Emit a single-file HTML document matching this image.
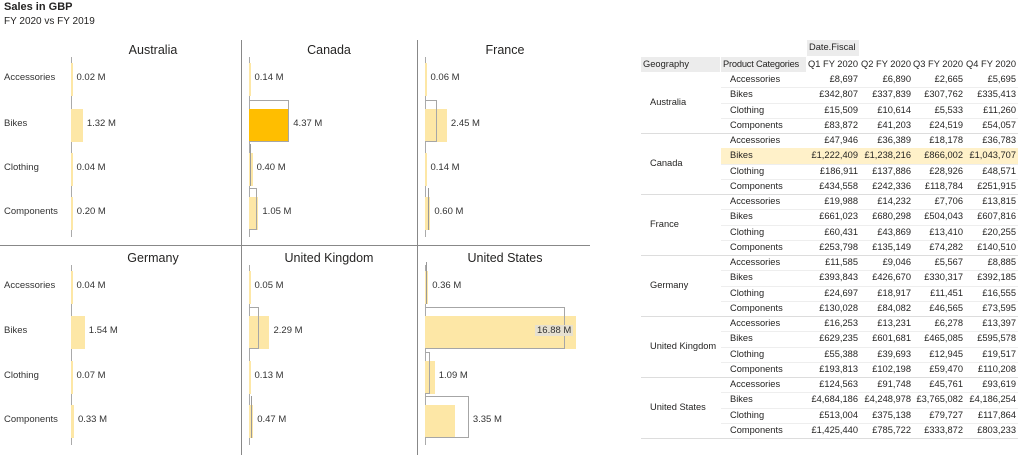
<!DOCTYPE html>
<html><head><meta charset="utf-8"><style>
body{margin:0;width:1024px;height:455px;background:#fff;position:relative;overflow:hidden;font-family:"Liberation Sans",sans-serif;color:#252423}
div{position:absolute;box-sizing:border-box}
.t{white-space:nowrap}
</style></head><body>
<div class="t" style="left:4px;top:1px;font-size:11px;font-weight:bold">Sales in GBP</div>
<div class="t" style="left:4px;top:16px;font-size:10px">FY 2020 vs FY 2019</div>
<div style="left:241px;top:40px;width:1px;height:415px;background:#888"></div>
<div style="left:417px;top:40px;width:1px;height:415px;background:#888"></div>
<div style="left:0;top:245px;width:590px;height:1px;background:#888"></div>
<div id="charts"></div>
<div id="tbl"></div>
<script>
var S=8.95,h='';
var cats=['Accessories','Bikes','Clothing','Components'];
var P=[
['Australia',71,51,[79,125,169,213],[.02,1.32,.04,.20],[0,0,0,0],153],
['Canada',249,51,[79,125,169,213],[.14,4.37,.40,1.05],[0,4.5,.1,.9],329],
['France',425,51,[79,125,169,213],[.06,2.45,.14,.60],[0,1.35,0,.3],505],
['Germany',71,259,[287,332,377,421],[.04,1.54,.07,.33],[0,0,0,0],153],
['United Kingdom',249,259,[287,332,377,421],[.05,2.29,.13,.47],[0,1.1,0,.2],329],
['United States',425,259,[287,332,377,421],[.36,16.88,1.09,3.35],[.1,15.6,.55,4.9],505]];
P.forEach(function(p,pi){
 h+='<div class="t" style="left:'+(p[6]-80)+'px;width:160px;text-align:center;top:'+(p[2]-8)+'px;font-size:12.5px;color:#252423">'+p[0]+'</div>';
 h+='<div style="left:'+p[1]+'px;top:'+(p[3][0]-22)+'px;width:1px;height:180px;background:#aaa"></div>';
 for(var i=0;i<4;i++){var c=p[3][i],v=p[4][i],t=p[5][i];
  if(p[1]==71)h+='<div class="t" style="left:4px;top:'+(c-7)+'px;font-size:9.5px;color:#333">'+cats[i]+'</div>';
  var w=Math.max(1.5,v*S),tw=t*S;
  var col=(pi==1&&i==1)?'#FFBE00':'#FDE7A6';
  h+='<div style="left:'+p[1]+'px;top:'+(c-16)+'px;width:'+w+'px;height:33px;background:'+col+'"></div>';
  if(t>0){ if(tw<3)h+='<div style="left:'+(p[1]+tw)+'px;top:'+(c-25)+'px;width:1.5px;height:42px;background:#999"></div>';
   else h+='<div style="left:'+p[1]+'px;top:'+(c-25)+'px;width:'+tw+'px;height:42px;border:1.5px solid #a6a6a6;border-left:none"></div>';}
  var lbl=v.toFixed(2)+' M';
  if(pi==5&&i==1) h+='<div class="t" style="left:535px;top:'+(c-7)+'px;font-size:9.5px;background:#e6e0d0;color:#333;padding:0 2px">'+lbl+'</div>';
  else h+='<div class="t" style="left:'+(p[1]+Math.max(w,tw)+4)+'px;top:'+(c-7)+'px;font-size:9.5px;color:#333">'+lbl+'</div>';
 }
});
document.getElementById('charts').outerHTML=h;
var D={Australia:[['£8,697','£6,890','£2,665','£5,695'],['£342,807','£337,839','£307,762','£335,413'],['£15,509','£10,614','£5,533','£11,260'],['£83,872','£41,203','£24,519','£54,057']],
Canada:[['£47,946','£36,389','£18,178','£36,783'],['£1,222,409','£1,238,216','£866,002','£1,043,707'],['£186,911','£137,886','£28,926','£48,571'],['£434,558','£242,336','£118,784','£251,915']],
France:[['£19,988','£14,232','£7,706','£13,815'],['£661,023','£680,298','£504,043','£607,816'],['£60,431','£43,869','£13,410','£20,255'],['£253,798','£135,149','£74,282','£140,510']],
Germany:[['£11,585','£9,046','£5,567','£8,885'],['£393,843','£426,670','£330,317','£392,185'],['£24,697','£18,917','£11,451','£16,555'],['£130,028','£84,082','£46,565','£73,595']],
'United Kingdom':[['£16,253','£13,231','£6,278','£13,397'],['£629,235','£601,681','£465,085','£595,578'],['£55,388','£39,693','£12,945','£19,517'],['£193,813','£102,198','£59,470','£110,208']],
'United States':[['£124,563','£91,748','£45,761','£93,619'],['£4,684,186','£4,248,978','£3,765,082','£4,186,254'],['£513,004','£375,138','£79,727','£117,864'],['£1,425,440','£785,722','£333,872','£803,233']]};
var g='',fs='font-size:9.3px;color:#252423;';
g+='<div style="left:807px;top:40px;width:52px;height:16px;background:#ececec"></div><div class="t" style="left:809px;top:42px;'+fs+'">Date.Fiscal</div>';
g+='<div style="left:641px;top:57px;width:79px;height:15px;background:#ececec"></div><div class="t" style="left:643px;top:59px;'+fs+'">Geography</div>';
g+='<div style="left:721px;top:57px;width:85px;height:15px;background:#ececec"></div><div class="t" style="left:723px;top:59px;'+fs+'letter-spacing:-0.2px">Product Categories</div>';
var R=[858,911,963,1016],Q=['Q1 FY 2020','Q2 FY 2020','Q3 FY 2020','Q4 FY 2020'];
Q.forEach(function(q,k){g+='<div class="t" style="left:'+(R[k]-60)+'px;width:60px;text-align:right;top:59px;'+fs+'">'+q+'</div>';});
var y=72,rh=15.25;
Object.keys(D).forEach(function(k,gi){
 g+='<div class="t" style="left:650px;top:'+(y+2*rh-6)+'px;'+fs+'">'+k+'</div>';
 for(var i=0;i<4;i++){var ry=y+i*rh;
  if(gi==1&&i==1)g+='<div style="left:721px;top:'+ry+'px;width:297px;height:'+rh+'px;background:#FFF1C9"></div>';
  g+='<div class="t" style="left:730px;top:'+(ry+2)+'px;'+fs+'">'+cats[i]+'</div>';
  for(var j=0;j<4;j++)g+='<div class="t" style="left:'+(R[j]-60)+'px;width:60px;text-align:right;top:'+(ry+2)+'px;'+fs+'">'+D[k][i][j]+'</div>';
  if(i<3)g+='<div style="left:721px;top:'+(ry+rh)+'px;width:297px;height:1px;background:#eee"></div>';
 }
 y+=4*rh;
 g+='<div style="left:641px;top:'+y+'px;width:377px;height:1px;background:#ddd"></div>';
});
document.getElementById('tbl').outerHTML=g;
</script>
</body></html>
